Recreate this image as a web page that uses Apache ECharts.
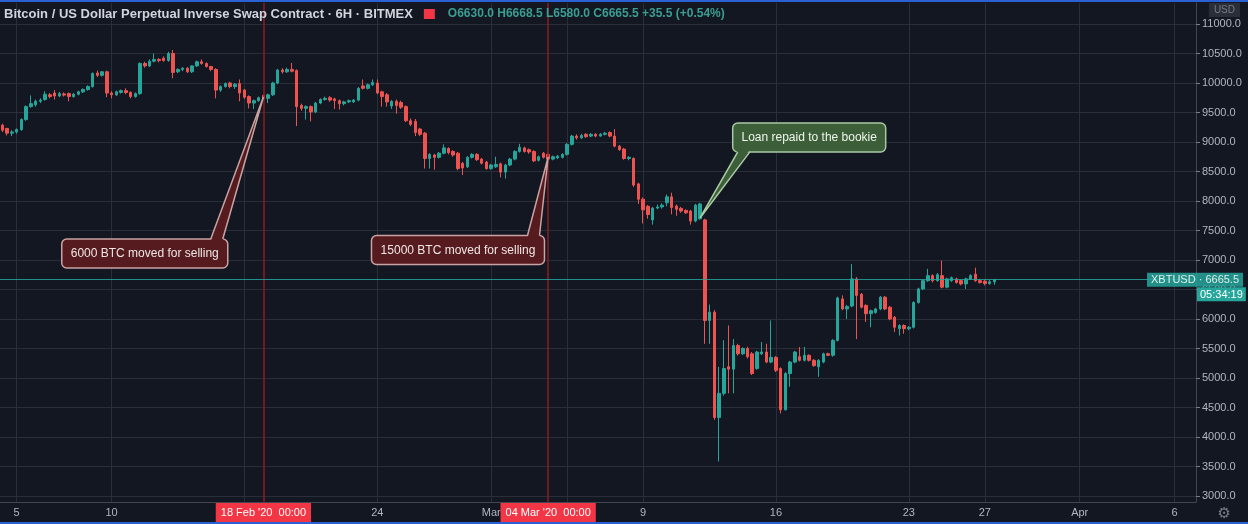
<!DOCTYPE html>
<html><head><meta charset="utf-8">
<script src="https://cdn.jsdelivr.net/npm/echarts@6/dist/echarts.min.js"></script>
<style>
html,body{margin:0;padding:0;background:#131722;overflow:hidden;}
#wrap{position:relative;width:1248px;height:524px;}
#chart{width:1248px;height:524px;}
#wrap:before,#wrap:after{content:'';position:absolute;left:0;right:0;height:2px;background:#2a62d6;z-index:5;}
#wrap:before{top:0}
#wrap:after{bottom:0}
</style></head><body><div id="wrap"><div id="chart"></div></div>
<script>
// ---- data (6H candles starting 4 Feb 2020 06:00 UTC) ----
const open = [
9285,9230,9150,9170,9210,9380,9600,9630,9690,9720,
9800,9830,9780,9815,9820,9770,9810,9850,9890,9940,
10170,10130,10190,9830,9800,9840,9870,9840,9770,9820,
10330,10290,10370,10400,10420,10380,10500,10190,10230,10250,
10190,10290,10360,10330,10280,10230,9880,9940,10000,9940,
9990,9880,9770,9660,9700,9790,9740,9800,10000,10220,
10190,10230,10210,9620,9570,9600,9510,9660,9720,9750,
9730,9700,9650,9680,9680,9710,9950,9910,9970,10000,
9850,9800,9610,9690,9670,9600,9360,9350,9220,9150,
8720,8780,8740,8810,8890,8840,8810,8640,8580,8740,
8790,8710,8660,8550,8580,8630,8490,8610,8710,8840,
8900,8870,8840,8690,8810,8790,8710,8730,8740,8790,
8960,9100,9070,9130,9100,9130,9100,9130,9160,9100,
8930,8880,8720,8720,8290,8030,7910,7680,7880,7900,
7970,8070,7915,7875,7840,7830,7660,7700,7680,5975,
6115,4330,4740,5190,5150,5550,5410,5500,5410,5160,
5410,5440,5270,5350,5160,4460,5075,5270,5360,5300,
5385,5300,5190,5270,5410,5385,5637,6340,6170,6220,
6680,6420,6230,6090,6110,6170,6370,6200,6030,5835,
5890,5835,5860,6280,6510,6650,6735,6650,6735,6540,
6650,6680,6650,6595,6680,6760,6650,6640,6600,6630
];
const close = [
9200,9150,9170,9210,9380,9600,9650,9690,9710,9810,
9770,9780,9820,9795,9770,9810,9850,9890,9940,10160,
10130,10190,9830,9800,9850,9870,9840,9770,9820,10330,
10290,10370,10400,10380,10380,10500,10180,10230,10250,10190,
10290,10360,10330,10280,10230,9880,9940,9990,9940,9980,
9830,9760,9660,9700,9750,9740,9800,10000,10220,10190,
10230,10200,9600,9570,9600,9510,9660,9720,9740,9710,
9700,9650,9680,9700,9710,9910,9910,9970,10010,9830,
9770,9680,9690,9620,9590,9360,9300,9160,9130,8720,
8790,8740,8810,8900,8820,8780,8550,8560,8740,8790,
8700,8640,8550,8610,8620,8490,8610,8710,8840,8910,
8840,8830,8680,8750,8740,8710,8750,8760,8790,8960,
9100,9070,9110,9090,9130,9100,9130,9150,9100,8930,
8870,8720,8740,8270,8030,7850,7770,7880,7900,7930,
8070,7890,7860,7830,7800,7660,7930,7950,5975,6115,
4330,4740,5160,5150,5550,5410,5500,5360,5075,5440,
5440,5270,5350,5130,4460,5075,5270,5440,5300,5385,
5300,5210,5300,5410,5385,5637,6357,6170,6210,6680,
6400,6200,6090,6140,6170,6370,6170,6000,5860,5890,
5835,5860,6280,6510,6650,6735,6650,6750,6540,6680,
6700,6620,6595,6680,6735,6650,6620,6600,6630,6665.5
];
const low = [
9170,9110,9100,9140,9190,9360,9580,9600,9660,9700,
9740,9720,9760,9770,9690,9750,9790,9830,9870,9920,
10100,10110,9760,9740,9780,9820,9810,9740,9750,9800,
10260,10270,10350,10350,10360,10360,10080,10170,10200,10170,
10170,10270,10310,10260,10200,9740,9850,9920,9910,9900,
9690,9730,9570,9560,9680,9710,9660,9780,9980,10160,
10170,10180,9270,9530,9380,9350,9490,9640,9700,9680,
9560,9550,9620,9660,9660,9690,9890,9890,9950,9810,
9600,9600,9560,9480,9560,9340,9270,9100,9100,8550,
8550,8530,8720,8790,8790,8750,8520,8440,8560,8720,
8680,8620,8530,8530,8560,8400,8380,8590,8690,8820,
8820,8800,8660,8670,8720,8690,8690,8710,8720,8770,
8940,9040,9050,9070,9080,9080,9090,9110,9080,8910,
8850,8700,8690,8240,7950,7620,7700,7600,7860,7870,
7910,7775,7750,7800,7780,7600,7640,7680,5580,5580,
4290,3585,4700,4740,4740,5380,5390,5330,5050,5140,
5390,5250,5250,5100,4400,4450,4850,5250,5280,5280,
5280,5190,5020,5250,5370,5360,5620,6150,6000,6200,
5660,6180,5950,5860,6090,6150,6150,5980,5780,5720,
5750,5810,5840,6260,6490,6630,6620,6630,6520,6520,
6630,6600,6570,6510,6660,6630,6600,6570,6580,6580
];
const high = [
9310,9240,9200,9230,9400,9620,9790,9720,9740,9860,
9830,9880,9850,9840,9840,9830,9870,9910,9960,10180,
10210,10200,10210,9860,9870,9890,9910,9860,9840,10350,
10360,10400,10500,10420,10450,10530,10560,10250,10270,10270,
10300,10380,10400,10350,10290,10250,9960,10010,10020,10000,
10060,9900,9790,9720,9770,9810,9820,10020,10240,10250,
10260,10340,10230,9650,9620,9620,9680,9740,9770,9780,
9750,9720,9700,9720,9730,9930,10060,9990,10060,10060,
9870,9830,9710,9720,9700,9620,9400,9390,9240,9170,
8810,8800,8830,8960,8910,8860,8830,8660,8760,8810,
8810,8730,8680,8630,8750,8650,8630,8730,8860,8970,
8920,8890,8860,8770,8830,8820,8770,8780,8810,8980,
9120,9130,9140,9150,9150,9150,9150,9170,9180,9220,
8950,8900,8760,8740,8310,8060,7930,7900,7940,7960,
8110,8140,7940,7900,7860,7850,7950,7970,7700,6245,
6150,5190,5640,5890,5660,5580,5520,5530,5440,5460,
5610,5580,5975,5370,5180,5100,5290,5460,5525,5525,
5400,5320,5320,5430,5430,5660,6380,6400,6240,6930,
6710,6440,6250,6160,6190,6390,6390,6220,6050,5910,
5910,5880,6300,6530,6670,6850,6760,6780,6990,6700,
6720,6700,6670,6700,6760,6870,6680,6670,6660,6668.5
];
// time-axis tick positions (candle index) and their labels
const xTickIdx  = [3, 23, 51, 79, 103, 119, 135, 163, 191, 207, 227, 247];
const xTickText = ['5', '10', '', '24', 'Mar', '', '9', '16', '23', '27', 'Apr', '6'];
// vertical marker lines
const vLineIdx  = [55, 115];
const vLineText = ["18 Feb '20  00:00", "04 Mar '20  00:00"];
// last price
const lastPrice = 6665.5;
const countdown = '05:34:19';
// callouts: tip candle / price and box anchor candle / price
const calloutText     = ['6000 BTC moved for selling', '15000 BTC moved for selling', 'Loan repaid to the bookie'];
const calloutTipIdx   = [55, 115, 147];
const calloutTipPrice = [9763, 8746, 7712];
const calloutBoxIdx   = [30, 96, 170];
const calloutBoxPrice = [7110, 7169, 9076];

// ---- build ----
const N_SLOTS = 252;
const months = ['Jan','Feb','Mar','Apr','May','Jun','Jul','Aug','Sep','Oct','Nov','Dec'];
const t0 = Date.UTC(2020, 1, 4, 6);
const categories = [];
for (let i = 0; i < N_SLOTS; i++) {
  const d = new Date(t0 + i * 6 * 3600 * 1000);
  categories.push(String(d.getUTCDate()).padStart(2,'0') + ' ' + months[d.getUTCMonth()] + " '20 " +
    String(d.getUTCHours()).padStart(2,'0') + ':00');
}
const candles = open.map((o, i) => [o, close[i], low[i], high[i]]);
const tickSet = new Set(xTickIdx);
const labelMap = {};
xTickIdx.forEach((k, j) => { labelMap[k] = xTickText[j]; });

const calloutStyles = [
  { fill: '#561b1e', stroke: '#c9a3a3', text: '#efe6e6' },
  { fill: '#561b1e', stroke: '#c9a3a3', text: '#efe6e6' },
  { fill: '#3c5f39', stroke: '#a9c9a2', text: '#eef5ea' }
];
const FONT = '"Liberation Sans", Arial, sans-serif';
const ctx = document.createElement('canvas').getContext('2d');
ctx.font = '12px ' + FONT;

const up = '#26a69a', down = '#ef5350';

const chart = echarts.init(document.getElementById('chart'), null, { renderer: 'canvas' });
chart.setOption({
  animation: false,
  backgroundColor: '#131722',
  textStyle: { fontFamily: FONT },
  title: [
    {
      left: 4, top: 5, padding: 0,
      text: '{t|Bitcoin / US Dollar Perpetual Inverse Swap Contract · 6H · BITMEX}{s| }{f| }{s2| }{v|O6630.0 H6668.5 L6580.0 C6665.5 +35.5 (+0.54%)}',
      textStyle: {
        rich: {
          t: { color: '#d1d4dc', fontSize: 13, fontFamily: FONT },
          s: { width: 11 },
          f: { width: 11, height: 10, backgroundColor: '#f23645' },
          s2: { width: 13 },
          v: { color: '#3a9e92', fontSize: 12, fontFamily: FONT }
        }
      }
    },
    {
      right: 8, top: 3, padding: [2, 5], text: 'USD', backgroundColor: '#2a2e39',
      textStyle: { color: '#787b86', fontSize: 10, fontWeight: 'normal', fontFamily: FONT }
    },
    {
      right: 17, bottom: 2, padding: 0, text: '⚙',
      textStyle: { color: '#787b86', fontSize: 15, fontWeight: 'normal', fontFamily: 'DejaVu Sans' }
    }
  ],
  grid: { left: 0, right: 52, top: 3, bottom: 22, containLabel: false },
  xAxis: {
    type: 'category',
    data: categories,
    boundaryGap: true,
    axisLine: { show: true, lineStyle: { color: '#434651' } },
    axisTick: { show: false },
    axisLabel: {
      interval: (i) => tickSet.has(i),
      formatter: (v, i) => labelMap[i] || '',
      color: '#b2b5be', fontSize: 11, margin: 5
    },
    splitLine: {
      show: true, alignWithLabel: true,
      interval: (i) => tickSet.has(i),
      lineStyle: { color: '#2a2e39', width: 1 }
    }
  },
  yAxis: {
    type: 'value',
    position: 'right',
    min: 2898.3, max: 11355.9,
    minInterval: 500, maxInterval: 500,
    scale: true,
    axisLine: { show: true, lineStyle: { color: '#434651' } },
    axisTick: { show: true, length: 4, lineStyle: { color: '#787b86' } },
    axisLabel: {
      showMinLabel: false, showMaxLabel: false,
      color: '#b2b5be', fontSize: 11, margin: 6,
      formatter: (v) => (Math.abs(v / 500 - Math.round(v / 500)) < 1e-6 ? v.toFixed(1) : '')
    },
    splitLine: { show: true, showMinLine: false, showMaxLine: false, lineStyle: { color: '#2a2e39' } }
  },
  series: [
    {
      type: 'candlestick',
      data: candles,
      barWidth: 3,
      itemStyle: { color: up, color0: down, borderColor: up, borderColor0: down, borderWidth: 1 },
      markLine: {
        silent: true, symbol: ['none', 'none'], animation: false,
        data: [
          ...vLineIdx.map((k, j) => ({
            xAxis: categories[k],
            lineStyle: { color: '#8e1c1f', width: 1.5, type: 'solid' },
            label: {
              show: true, position: 'start', distance: 1, formatter: vLineText[j],
              color: '#ffffff', backgroundColor: '#f23645', padding: [4, 5, 4, 5],
              fontSize: 11, fontFamily: FONT
            }
          })),
          {
            yAxis: lastPrice,
            lineStyle: { color: up, width: 1, type: 'solid', opacity: 0.85 },
            label: {
              show: true, position: 'end', distance: [-49, 0],
              formatter: 'XBTUSD · ' + lastPrice.toFixed(1),
              color: '#ffffff', backgroundColor: up, padding: [2, 4, 1, 4],
              fontSize: 11, fontFamily: FONT
            }
          },
          {
            yAxis: lastPrice,
            lineStyle: { color: 'rgba(0,0,0,0)', width: 1 },
            label: {
              show: true, position: 'end', distance: [1, 0],
              formatter: '{c|' + countdown + '}', padding: [29, 0, 0, 0],
              rich: { c: { color: '#ffffff', backgroundColor: up, padding: [2, 3, 1, 3], fontSize: 11, fontFamily: FONT } }
            }
          }
        ]
      }
    },
    {
      type: 'custom',
      z: 10,
      clip: false,
      silent: true,
      data: calloutText.map((t, i) => [calloutTipIdx[i], calloutTipPrice[i], calloutBoxIdx[i], calloutBoxPrice[i]]),
      renderItem: (params, api) => {
        const i = params.dataIndex;
        const tip = api.coord([api.value(0), api.value(1)]);
        const c = api.coord([api.value(2), api.value(3)]);
        const st = calloutStyles[i];
        const text = calloutText[i];
        const w = Math.round(ctx.measureText(text).width + 18);
        const h = 29;
        const x0 = c[0] - w / 2, y0 = c[1] - h / 2;
        const above = tip[1] < y0;
        const right = tip[0] > c[0];
        const ey = above ? y0 : y0 + h;
        const bx1 = right ? x0 + w - 17 : x0 + 5;
        const bx2 = right ? x0 + w - 5 : x0 + 17;
        const inset = above ? 2 : -2;
        return {
          type: 'group',
          children: [
            { type: 'rect', shape: { x: x0, y: y0, width: w, height: h, r: 5 },
              style: { fill: st.fill, stroke: st.stroke, lineWidth: 1.5 } },
            { type: 'polygon', shape: { points: [[bx1, ey + inset], [tip[0], tip[1]], [bx2, ey + inset]] },
              style: { fill: st.fill } },
            { type: 'polyline', shape: { points: [[bx1, ey], [tip[0], tip[1]], [bx2, ey]] },
              style: { fill: null, stroke: st.stroke, lineWidth: 1.5 } },
            { type: 'text', style: { x: c[0], y: c[1] + 0.5, text: text, fill: st.text,
              font: '12px ' + FONT, align: 'center', verticalAlign: 'middle' } }
          ]
        };
      }
    }
  ]
});
</script></body></html>
